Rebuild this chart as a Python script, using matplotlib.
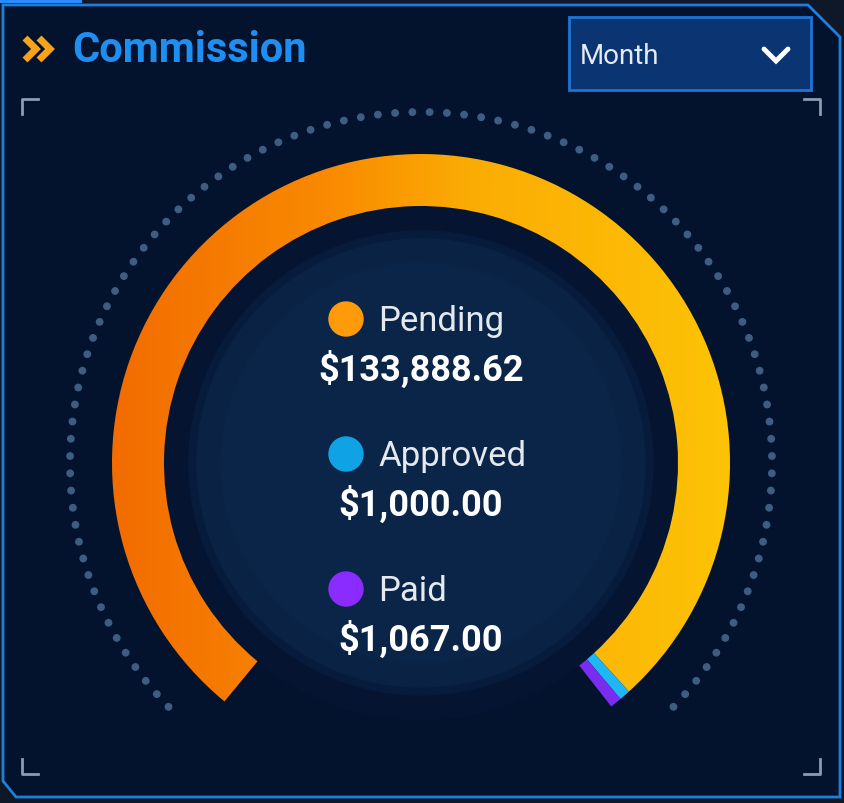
import numpy as np
import matplotlib.pyplot as plt
from matplotlib.patches import Wedge, Circle, Polygon, FancyBboxPatch
from matplotlib.colors import LinearSegmentedColormap

# data
categories = ["Pending", "Approved", "Paid"]
amounts = [133888.62, 1000.00, 1067.00]
arc_colors = ["#FF9800", "#1EB6F3", "#7A2DF0"]
dot_colors = ["#FF9A0A", "#0FA3E6", "#8A2BFF"]
title = "Commission"
period = "Month"

W, H = 844, 804
BG = "#03132E"

fig = plt.figure(figsize=(W / 100, H / 100), dpi=100)
fig.patch.set_facecolor("#0E1828")
ax = fig.add_axes([0, 0, 1, 1])
ax.set_xlim(0, W)
ax.set_ylim(0, H)
ax.set_aspect("equal")
ax.axis("off")

def Y(y):
    # image coords (top-down) -> axes coords
    return H - y

# panel frame
frame = [(3, Y(6)), (808, Y(6)), (840, Y(38)), (840, Y(798)), (16, Y(798)), (3, Y(782))]
ax.add_patch(Polygon(frame, closed=True, facecolor=BG, edgecolor="#1F7FD8", lw=2))
ax.plot([0, 80], [Y(2), Y(2)], color="#2A8CFF", lw=3)

# corner brackets
bc = "#8C9BB0"
for bx, by, dx, dy in [(22, 100, 1, 1), (820, 100, -1, 1), (22, 775, 1, -1), (820, 775, -1, -1)]:
    ax.plot([bx + 16 * dx, bx, bx], [Y(by), Y(by), Y(by + 15 * dy)], color=bc, lw=2)

# title chevrons + text
for off in (0, 14):
    ax.plot([25 + off, 36 + off, 25 + off], [Y(39), Y(50), Y(61)], color="#F7A21B", lw=5,
            solid_joinstyle="miter", solid_capstyle="butt")
ax.text(72, Y(51), title, color="#1E8FF0", fontsize=30, fontweight="bold",
        family="Roboto", va="center", ha="left")

# dropdown
ax.add_patch(FancyBboxPatch((569, Y(91)), 242, 73, boxstyle="square,pad=0",
                            facecolor="#0A3572", edgecolor="#1E74D6", lw=2))
ax.text(580, Y(57), period, color="#E6ECF5", fontsize=20, family="Roboto",
        va="center", ha="left")
ax.plot([764, 776, 788], [Y(50), Y(62), Y(50)], color="white", lw=3.5,
        solid_joinstyle="miter", solid_capstyle="round")

# gauge geometry
cx, cy = 421, Y(464)
r_out, width = 309, 52
start, span = 230.5, 282.5

# inner disk with soft shading
ax.add_patch(Circle((cx, cy), r_out - width, color="#041431", zorder=1))
for r, c in [(232, "#071C3C"), (224, "#0A2244"), (200, "#0B2548")]:
    ax.add_patch(Circle((cx, cy), r, color=c, zorder=1))

# dotted outer ring
r_dot = 351
for a in np.linspace(np.radians(224), np.radians(-44), 96):
    ax.add_patch(Circle((cx + r_dot * np.cos(a), cy + r_dot * np.sin(a)), 3.2,
                        color="#3D5E80", zorder=1))

# pending gradient runs left -> right across the gauge
grad = LinearSegmentedColormap.from_list(
    "pend", [(0.0, "#F26C00"), (0.35, "#F98A00"), (0.58, "#FBAC04"), (1.0, "#FDC306")])

total = sum(amounts)
a = start
for i, v in enumerate(amounts):
    sweep = span * v / total
    if i == 0:
        wedge = Wedge((cx, cy), r_out, a - sweep, a, width=width,
                      facecolor="none", edgecolor="none")
        ax.add_patch(wedge)
        xs = np.linspace(0, 1, 600)[None, :]
        im = ax.imshow(np.repeat(xs, 4, axis=0), cmap=grad, aspect="auto",
                       extent=(cx - r_out, cx + r_out, cy - r_out, cy + r_out),
                       origin="lower", interpolation="bilinear", zorder=2)
        im.set_clip_path(wedge)
    else:
        ax.add_patch(Wedge((cx, cy), r_out, a - sweep, a, width=width,
                           facecolor=arc_colors[i], edgecolor="none", zorder=2))
    a -= sweep

ax.set_xlim(0, W)
ax.set_ylim(0, H)

# legend labels and values
rows = [320, 455, 590]
for name, v, dc, yy in zip(categories, amounts, dot_colors, rows):
    ax.add_patch(Circle((346, Y(yy)), 17, color=dc, zorder=3))
    ax.text(378, Y(yy + 2), name, color="#E4E9F0", fontsize=25, family="Roboto",
            va="center", ha="left", zorder=3)
    ax.text(cx, Y(yy + 50), "${:,.2f}".format(v), color="white", fontsize=26,
            fontweight="bold", family="Roboto", va="center", ha="center", zorder=3)

fig.savefig("out.png", dpi=100, facecolor=fig.get_facecolor())
